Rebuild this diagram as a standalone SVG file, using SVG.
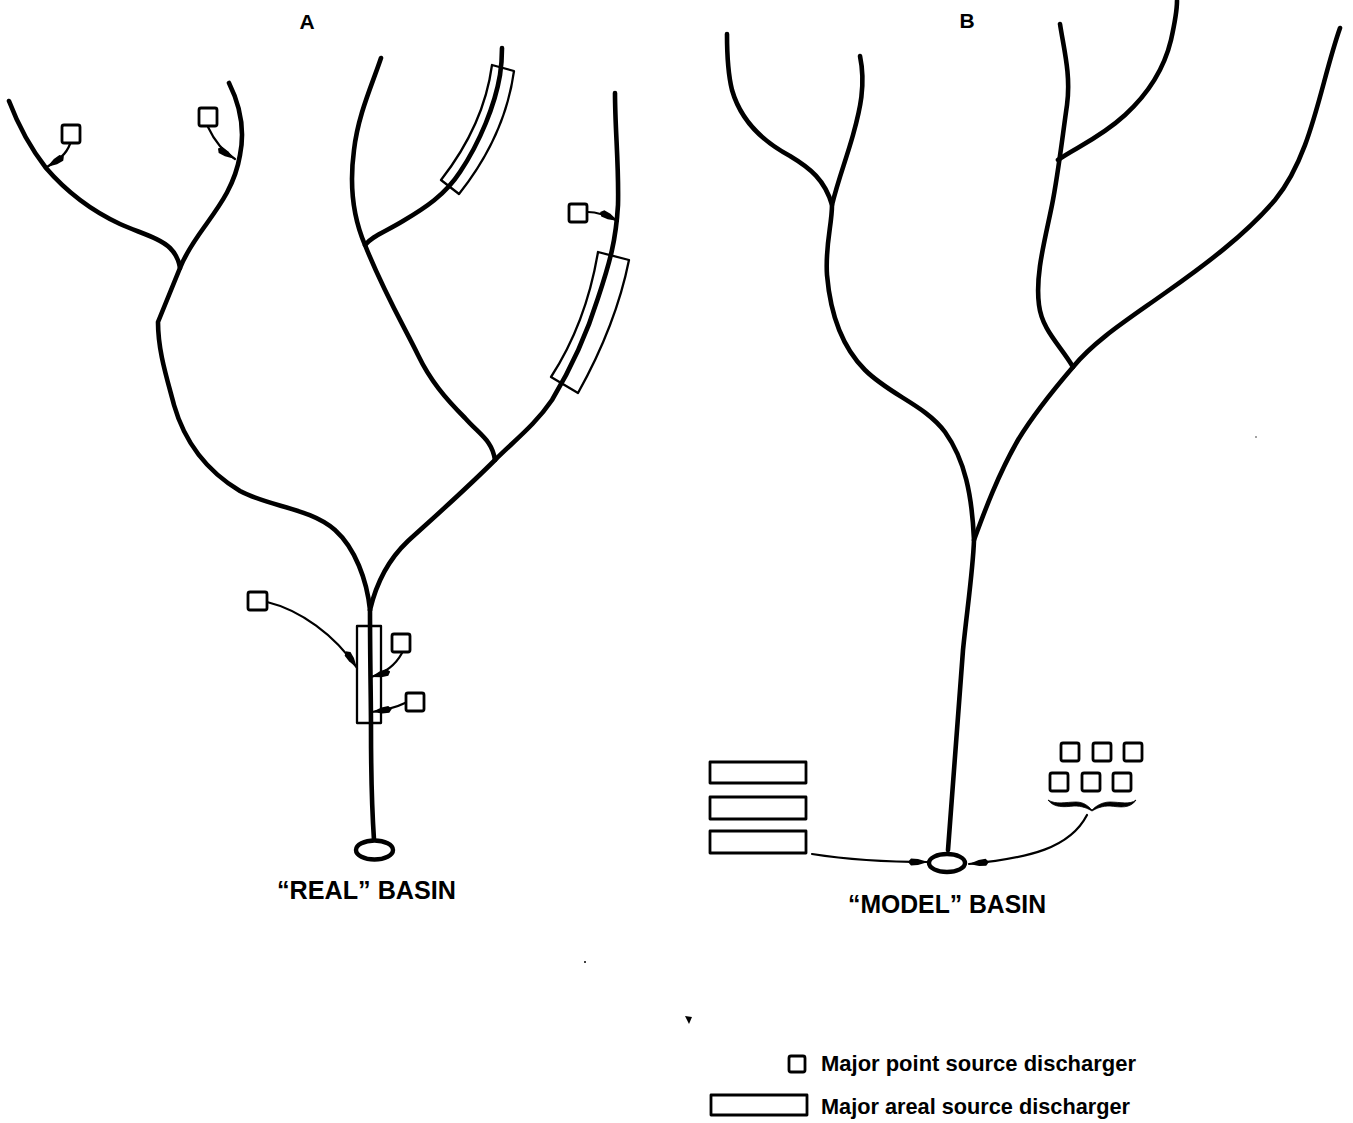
<svg xmlns="http://www.w3.org/2000/svg" width="1353" height="1123" viewBox="0 0 1353 1123">
<style>
.r{fill:none;stroke:#000;stroke-width:4.6;stroke-linecap:round;stroke-linejoin:round}
.b{fill:#fff;stroke:#000;stroke-width:2.8;stroke-linejoin:round}
.o{fill:none;stroke:#000;stroke-width:2.3;stroke-linejoin:round}
.c{fill:none;stroke:#000;stroke-width:2.2;stroke-linecap:round}
.t{font-family:"Liberation Sans",Arial,sans-serif;font-weight:700;fill:#000}
</style>
<defs>
<marker id="a" markerUnits="userSpaceOnUse" markerWidth="22" markerHeight="10" refX="20" refY="5" orient="auto"><path d="M0 5 3 1.500 10 2 20 5 10 8 3 8.500Z" fill="#000"/></marker>
</defs>
<rect width="1353" height="1123" fill="#fff"/>
<g id="rivers-a">
<path class="r" d="M9 101C20 130 32 150 46 168C65 190 90 210 120 224C140 233 160 238 170 248C176 254 179 261 180 268"/>
<path class="r" d="M229 83C240 105 245 130 240 155C235 185 220 205 205 226C192 244 185 255 180 268L158 322C158 350 166 375 174 405C184 440 205 470 240 491C270 507 310 508 335 530C355 548 367 580 370 610"/>
<path class="r" d="M370 610C370 660 371 700 371 730C371 770 372 810 374 840"/>
<path class="r" d="M370 610C377 580 390 558 408 541C440 512 465 490 495 460C515 440 535 425 552 400C570 370 585 340 598 298C610 262 616 240 618 205C619 165 615 130 615 93"/>
<path class="r" d="M495 460C492 440 480 435 465 418C445 398 430 380 418 355C405 328 385 295 365 245C352 215 350 180 354 150C358 115 372 85 381 58"/>
<path class="r" d="M365 245C372 236 385 232 403 221C425 208 445 195 460 172C480 142 495 105 500 75C502 62 502 55 502 48"/>
</g>
<g id="rivers-b">
<path class="r" d="M948 850C952 790 958 720 963 650C967 610 973 570 974 540C972 495 965 460 945 432C925 405 890 395 865 370C840 345 830 310 827 275C825 245 832 225 832 205C825 180 810 168 790 156C760 140 740 118 732 90C727 70 727 50 727 34"/>
<path class="r" d="M860 56C866 85 860 110 853 135C846 160 838 180 832 205"/>
<path class="r" d="M974 540C985 510 998 475 1018 440C1035 412 1055 388 1073 367C1060 345 1042 330 1039 305C1035 275 1045 240 1052 205C1058 175 1062 140 1067 105C1071 75 1064 50 1060 24"/>
<path class="r" d="M1058 160C1075 148 1100 138 1125 115C1150 92 1165 65 1171 40C1175 22 1177 10 1177 1"/>
<path class="r" d="M1073 367C1095 340 1130 318 1165 293C1205 265 1245 235 1275 200C1312 155 1320 85 1340 28"/>
</g>
<g id="area-a1"><path class="o" d="M492 65 514 71C508 115 490 155 459 194L441 180C466 148 486 110 492 65Z"/></g>
<g id="area-a2"><path class="o" d="M598 252 629 260C620 305 602 350 578 393L551 377C575 340 590 300 598 252Z"/></g>
<g id="area-a3"><rect class="o" x="357" y="626" width="24" height="97"/></g>
<g id="point-a1"><rect class="b" x="62" y="125" width="18" height="18" rx="2"/></g>
<g id="point-a2"><rect class="b" x="199" y="108" width="18" height="18" rx="2"/></g>
<g id="point-a3"><rect class="b" x="569" y="204" width="18" height="18" rx="2"/></g>
<g id="point-a4"><rect class="b" x="248" y="592" width="19" height="18" rx="2"/></g>
<g id="point-a5"><rect class="b" x="392" y="634" width="18" height="18" rx="2"/></g>
<g id="point-a6"><rect class="b" x="406" y="693" width="18" height="18" rx="2"/></g>
<g id="connectors">
<path class="c" marker-end="url(#a)" d="M70 144C66 155 58 160 47 167"/>
<path class="c" marker-end="url(#a)" d="M208 127C214 140 222 151 235 159"/>
<path class="c" marker-end="url(#a)" d="M588 212C598 212 608 216 618 221"/>
<path class="c" marker-end="url(#a)" d="M267 602C300 610 335 635 357 668"/>
<path class="c" marker-end="url(#a)" d="M402 653C395 666 385 673 371 677"/>
<path class="c" marker-end="url(#a)" d="M405 703C395 708 385 710 372 712"/>
<path class="c" marker-end="url(#a)" d="M812 854C850 860 885 862 928 862"/>
<path class="c" marker-end="url(#a)" d="M1087 815C1070 848 1030 858 969 864"/>
</g>
<g id="basin-a"><ellipse cx="374.500" cy="850" rx="18.500" ry="9.500" fill="#fff" stroke="#000" stroke-width="4.400"/></g>
<g id="basin-b"><ellipse cx="947" cy="863" rx="18" ry="9" fill="#fff" stroke="#000" stroke-width="4.400"/></g>
<g id="model-areas">
<rect class="b" x="710" y="762" width="96" height="21"/>
<rect class="b" x="710" y="797" width="96" height="22"/>
<rect class="b" x="710" y="831" width="96" height="22"/>
</g>
<g id="model-points">
<rect class="b" x="1061" y="743" width="18" height="18" rx="2"/>
<rect class="b" x="1093" y="743" width="18" height="18" rx="2"/>
<rect class="b" x="1124" y="743" width="18" height="18" rx="2"/>
<rect class="b" x="1050" y="773" width="18" height="18" rx="2"/>
<rect class="b" x="1082" y="773" width="18" height="18" rx="2"/>
<rect class="b" x="1113" y="773" width="18" height="18" rx="2"/>
<path d="M1048 800C1056 805 1066 802 1076 802C1084 802 1088 806 1092 810C1096 806 1102 802 1110 802C1120 802 1130 805 1136 800C1130 809 1120 807 1110 806C1102 806 1097 808 1092 811C1087 808 1082 806 1074 806C1064 807 1054 808 1048 800Z" fill="#000" stroke="#000" stroke-width=".8"/>
</g>
<g id="labels">
<text class="t" x="307" y="29" font-size="21" text-anchor="middle">A</text>
<text class="t" x="967" y="28" font-size="21" text-anchor="middle">B</text>
<text class="t" x="277" y="899" font-size="25" textLength="179" lengthAdjust="spacingAndGlyphs">“REAL” BASIN</text>
<text class="t" x="848" y="913" font-size="25" textLength="198" lengthAdjust="spacingAndGlyphs">“MODEL” BASIN</text>
<text class="t" x="821" y="1071" font-size="22.500" textLength="315" lengthAdjust="spacingAndGlyphs">Major point source discharger</text>
<text class="t" x="821" y="1114" font-size="22.500" textLength="309" lengthAdjust="spacingAndGlyphs">Major areal source discharger</text>
</g>
<g id="legend">
<rect class="b" x="789" y="1056" width="16" height="16" rx="2"/>
<rect class="b" x="711" y="1095" width="96" height="20"/>
</g>
<g id="specks">
<circle cx="585" cy="962" r="1"/>
<path d="M685 1016 692 1017 689 1024Z"/>
<circle cx="1256" cy="437" r=".7"/>
</g>
</svg>
